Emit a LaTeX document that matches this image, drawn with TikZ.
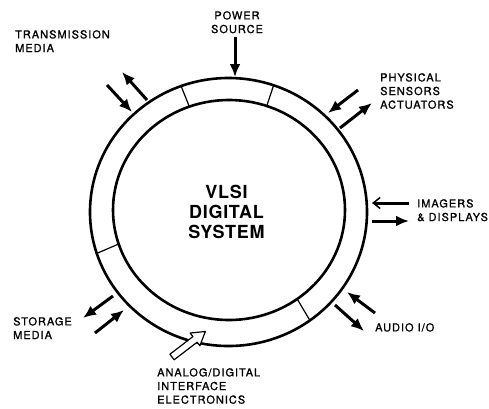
\documentclass[tikz,border=0pt]{standalone}
\usepackage{fontspec}
\setmainfont{TeX Gyre Heros}
\usetikzlibrary{arrows.meta,calc}
\tikzset{
  ring/.style={line width=2.6pt},
  divider/.style={line width=1.2pt},
  lbl/.style={inner sep=0pt, align=left, font=\fontsize{11}{13.6}\selectfont\addfontfeature{LetterSpace=9,FakeBold=1.2}},
  bigarrow/.style={line width=3pt, -{Latex[length=13pt,width=11pt]}},
  openarrow/.style={line width=3pt, -{Straight Barb[length=7pt,width=11pt,line width=1.5pt]}},
  hollow/.style={line width=1.2pt, line join=round}
}
\begin{document}
\begin{tikzpicture}[x=1pt,y=-1pt]
\useasboundingbox (0,0) rectangle (489,408);
% ring
\coordinate (co) at (228.5,212);
\coordinate (ci) at (229,210);
\draw[ring] (co) ellipse [x radius=138.5, y radius=134];
\draw[ring] (ci) ellipse [x radius=116, y radius=110];
% dividers (visual angles 110, 71, 198, -54)
\draw[divider] ($(co)+(-110:138.5 and 134)$) -- ($(ci)+(-110:116 and 110)$);
\draw[divider] ($(co)+(-71:138.5 and 134)$) -- ($(ci)+(-71:116 and 110)$);
\draw[divider] ($(co)+(-198:138.5 and 134)$) -- ($(ci)+(-198:116 and 110)$);
\draw[divider] ($(co)+(54:138.5 and 134)$) -- ($(ci)+(54:116 and 110)$);
% center text
\node[inner sep=0pt, align=center, font=\fontsize{18}{20}\selectfont\bfseries\addfontfeature{LetterSpace=4}] (vlsi) at (226.5,211.5) {VLSI\\DIGITAL\\SYSTEM};
% labels
\node[lbl, anchor=north, align=center] (power) at (237,11) {POWER\\SOURCE};
\node[lbl, anchor=north west] (trans) at (15,30) {TRANSMISSION\\MEDIA};
\node[lbl, anchor=north west] (phys) at (380,73) {PHYSICAL\\SENSORS\\ACTUATORS};
\node[lbl, anchor=north west] (imag) at (417,199) {IMAGERS\\\& DISPLAYS};
\node[lbl, anchor=north west] (audio) at (375,323) {AUDIO I/O};
\node[lbl, anchor=north west] (stor) at (13,317) {STORAGE\\MEDIA};
\node[lbl, anchor=north west] (adc) at (157,368) {ANALOG/DIGITAL\\INTERFACE\\ELECTRONICS};
% arrow end points
\coordinate (p1) at (235,37);  \coordinate (p2) at (235,77);
\coordinate (t1) at (107,85);  \coordinate (t2) at (132,112);
\coordinate (t3) at (147,100); \coordinate (t4) at (122,72);
\coordinate (s1) at (358,90);  \coordinate (s2) at (328,113);
\coordinate (s3) at (340,128); \coordinate (s4) at (372,103);
\coordinate (i1) at (409,203); \coordinate (i2) at (372,203);
\coordinate (i3) at (372,221); \coordinate (i4) at (409,221);
\coordinate (a1) at (375,313); \coordinate (a2) at (347,292);
\coordinate (a3) at (335,305); \coordinate (a4) at (364,331);
\coordinate (m1) at (113,296); \coordinate (m2) at (83,318);
\coordinate (m3) at (95,333);  \coordinate (m4) at (124,310);
% arrows
\draw[bigarrow] (p1) -- (p2);
\draw[bigarrow] (t1) -- (t2);
\draw[bigarrow] (t3) -- (t4);
\draw[bigarrow] (s1) -- (s2);
\draw[bigarrow] (s3) -- (s4);
\draw[openarrow] (i1) -- (i2);
\draw[bigarrow] (i3) -- (i4);
\draw[bigarrow] (a1) -- (a2);
\draw[bigarrow] (a3) -- (a4);
\draw[bigarrow] (m1) -- (m2);
\draw[bigarrow] (m3) -- (m4);
% hollow arrow
\coordinate (h0) at (172,357);
\begin{scope}[shift={(h0)}, rotate=37.4]
\draw[hollow, fill=white] (0,-3.5) -- (29,-3.5) -- (29,-8) -- (42,0) -- (29,8) -- (29,3.5) -- (0,3.5) -- cycle;
\end{scope}
\end{tikzpicture}
\end{document}
